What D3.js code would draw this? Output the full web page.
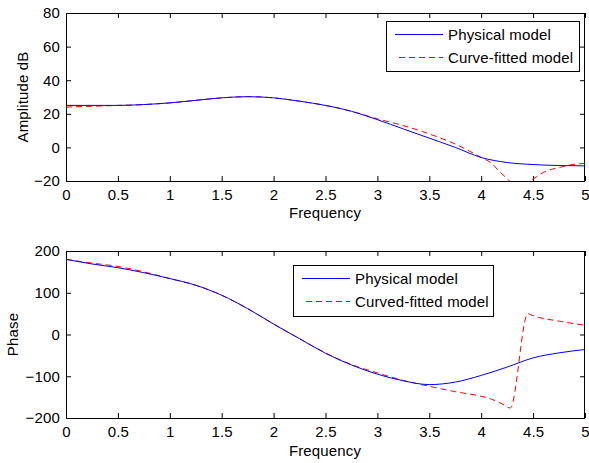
<!DOCTYPE html>
<html><head><meta charset="utf-8">
<script src="https://cdn.jsdelivr.net/npm/d3@7"></script>
<style>body{margin:0;background:#fff}svg{display:block}text{font-family:Arial,"Liberation Sans",sans-serif;font-size:15px;letter-spacing:0.15px;fill:#000}</style>
</head><body><div id="c"></div>
<script>
const freqTicks = [0,0.5,1,1.5,2,2.5,3,3.5,4,4.5,5];
const ampTicks = [-20,0,20,40,60,80];
const phaseTicks = [-200,-100,0,100,200];

const ampPhysFreq = [0,0.25,0.5,0.75,1,1.25,1.5,1.75,2,2.25,2.5,2.75,3,3.25,3.5,3.75,4,4.25,4.5,4.75,5];
const ampPhys = [25,25,25,25.5,26.5,28,29.5,30.2,29.5,27.5,25,21.5,16.5,11,5.5,0,-6,-9,-10.2,-10.8,-11];
const ampFitFreq = [0,0.25,0.5,0.75,1,1.25,1.5,1.75,2,2.25,2.5,2.75,3,3.25,3.5,3.75,4,4.1,4.18,4.25,4.28,4.37,4.47,4.63,4.75,4.86,5];
const ampFit = [24,24.5,25,25.5,26.5,28,29.5,30.2,29.5,27.5,25,21.5,17,13,8,2,-6,-9.5,-14.6,-18.6,-20.5,-24,-20,-14,-12,-10.4,-9.5];

const phPhysFreq = [0,0.25,0.5,0.75,1,1.25,1.5,1.75,2,2.25,2.5,2.75,3,3.25,3.5,3.75,4,4.25,4.5,4.75,5];
const phPhys = [180,169,160,148,134,118,94,62,25,-10,-45,-73,-95,-111,-120,-114,-98,-78,-56,-44,-36];
const phFitFreq = [0,0.25,0.5,0.75,1,1.25,1.5,1.75,2,2.25,2.5,2.75,3,3.25,3.5,3.75,4,4.1,4.2,4.28,4.45,4.5,4.75,5];
const phFit = [180,171,163,150,134,118,94,62,25,-10,-44,-72,-92,-110,-124,-137,-148,-155,-166,-176,50,45,32,22];

const W = 589, H = 463;
const svg = d3.select("#c").append("svg").attr("width", W).attr("height", H);

function panel(cfg) {
  const x = d3.scaleLinear().domain([0,5]).range([66,585]);
  const y = d3.scaleLinear().domain(cfg.ydom).range([cfg.bottom, cfg.top]);
  const g = svg.append("g");
  const id = "clip" + cfg.top;
  svg.append("clipPath").attr("id", id).append("rect")
    .attr("x", 66).attr("y", cfg.top).attr("width", 519).attr("height", cfg.bottom - cfg.top);
  const ax = g.append("g").attr("transform", `translate(0,${cfg.bottom})`)
    .call(d3.axisBottom(x).tickValues(freqTicks).tickSize(-5).tickPadding(8).tickFormat(d3.format("")));
  const axT = g.append("g").attr("transform", `translate(0,${cfg.top})`)
    .call(d3.axisTop(x).tickValues(freqTicks).tickSize(-5).tickFormat(""));
  const ay = g.append("g").attr("transform", `translate(66,0)`)
    .call(d3.axisLeft(y).tickValues(cfg.yticks).tickSize(-5).tickPadding(6));
  const ayR = g.append("g").attr("transform", `translate(585,0)`)
    .call(d3.axisRight(y).tickValues(cfg.yticks).tickSize(-5).tickFormat(""));
  [ax,axT,ay,ayR].forEach(a => {
    a.selectAll(".domain").remove();
    a.selectAll("line").attr("stroke", "#000");
    a.selectAll("text").style("font-size", "15px").attr("fill", "#000");
  });
  ax.selectAll("text").attr("dy", "0.71em");
  g.append("rect").attr("x", 66.5).attr("y", cfg.top + 0.5).attr("width", 518).attr("height", cfg.bottom - cfg.top)
    .attr("fill", "none").attr("stroke", "#000");
  const line = d3.line().x(d => x(d[0])).y(d => y(d[1])).curve(d3.curveMonotoneX);
  const pg = g.append("g").attr("clip-path", `url(#${id})`);
  pg.append("path").datum(cfg.fitF.map((f,i)=>[f,cfg.fit[i]])).attr("d", line)
    .attr("fill","none").attr("stroke","#ff0000").attr("stroke-width",1).attr("stroke-dasharray","6,4");
  pg.append("path").datum(cfg.physF.map((f,i)=>[f,cfg.phys[i]])).attr("d", line)
    .attr("fill","none").attr("stroke","#0000ff").attr("stroke-width",1);
  g.append("text").attr("x", 325).attr("y", cfg.xlabY).attr("text-anchor","middle").text("Frequency");
  g.append("text").attr("transform", `translate(${cfg.ylabX},${(cfg.top+cfg.bottom)/2}) rotate(-90)`)
    .attr("text-anchor","middle").text(cfg.ylabel);
  const L = cfg.legend;
  g.append("rect").attr("x", L.x + 0.5).attr("y", L.y + 0.5).attr("width", L.w).attr("height", L.h)
    .attr("fill","#fff").attr("stroke","#000");
  const e1 = L.y + 13.5, e2 = L.y + 36.5;
  g.append("line").attr("x1", L.x + 9).attr("x2", L.x + 57).attr("y1", e1).attr("y2", e1)
    .attr("stroke","#0000ff");
  g.append("line").attr("x1", L.x + 13).attr("x2", L.x + 57).attr("y1", e2).attr("y2", e2)
    .attr("stroke","#ff0000").attr("stroke-dasharray","6,4");
  g.append("text").attr("x", L.x + 62).attr("y", e1 + 5.5).text(L.names[0]);
  g.append("text").attr("x", L.x + 62).attr("y", e2 + 5.5).text(L.names[1]);
}

panel({top:13, bottom:181, ydom:[-20,80], yticks:ampTicks,
  physF:ampPhysFreq, phys:ampPhys, fitF:ampFitFreq, fit:ampFit,
  xlabY:218, ylabX:28, ylabel:"Amplitude dB",
  legend:{x:386, y:21, w:193, h:50, names:["Physical model","Curve-fitted model"]}});
panel({top:251, bottom:418, ydom:[-200,200], yticks:phaseTicks,
  physF:phPhysFreq, phys:phPhys, fitF:phFitFreq, fit:phFit,
  xlabY:456, ylabX:18, ylabel:"Phase",
  legend:{x:293, y:265, w:200, h:51, names:["Physical model","Curved-fitted model"]}});
</script></body></html>
